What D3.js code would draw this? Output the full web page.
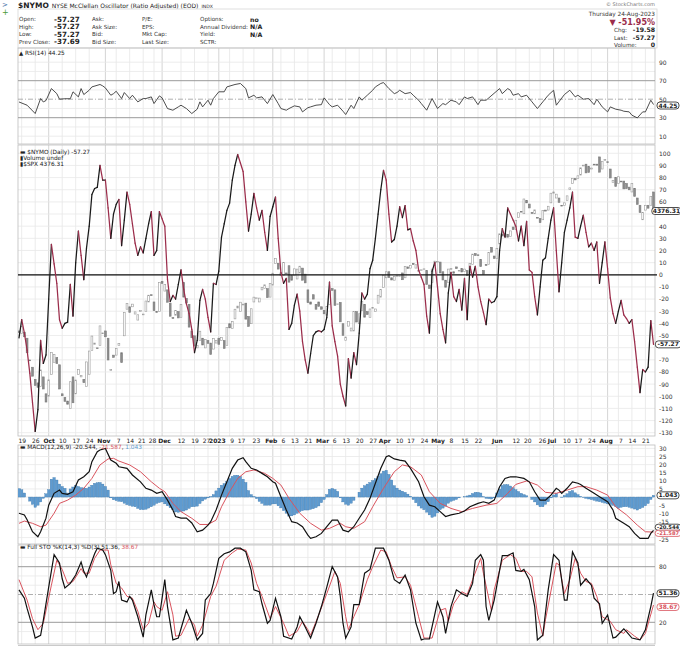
<!DOCTYPE html>
<html>
<head>
<meta charset="utf-8">
<script src="https://cdn.jsdelivr.net/npm/d3@7"></script>
<style>
  body { margin: 0; background: #fff; }
  svg { display: block; }
  text { font-family: "DejaVu Sans", sans-serif; }
</style>
</head>
<body>
<div id="chart"></div>
<script>

// ---- data (index = trading day, 0 = 16-Sep-2022, 235 = 24-Aug-2023) ----

const nymo = [
  -52,-37,-48,-62,-81,-105,-129,-111,-54,-73,
  -66,-20,25,9,-7,-37,-44,-40,-39,-8,
  -34,10,36,16,-4,22,40,66,71,72,
  90,78,78,55,30,50,58,62,24,45,
  68,58,42,26,16,23,18,30,42,52,
  16,20,52,46,40,-4,-22,-17,-20,-8,
  4,-12,-24,-32,-45,-64,-54,-21,-12,-20,
  -35,-47,-7,-8,3,31,42,53,59,78,
  90,99,92,85,60,36,50,67,55,45,
  53,35,20,48,56,64,30,2,-7,-3,
  -45,-40,-25,-16,-30,-55,-70,-81,-65,-50,
  -47,-46,-47,-45,-35,-6,-42,-55,-67,-90,
  -100,-108,-69,-85,-64,-74,-48,-15,-20,-16,
  5,12,30,50,70,86,78,50,27,29,
  40,56,47,57,37,38,28,20,4,-2,
  -8,-34,-48,3,10,-10,-32,-45,-56,-15,
  2,-18,-22,-12,-29,-3,-37,7,-2,7,
  -10,-22,-31,-41,-20,-23,-22,-18,20,38,
  31,55,50,45,40,28,40,24,44,4,
  2,-18,-33,-10,12,14,30,45,55,20,
  -14,10,35,45,55,68,31,30,40,49,
  35,23,26,20,27,-7,10,27,5,-19,
  -32,-40,-30,-21,-33,-36,-40,-37,-55,-76,
  -97,-78,-80,-76,-37.69,-57.27
];

const spxOpen = [
  3880,3870,3875,3850,3760,3730,3680,3665,3650,3690,3620,
  3610,3700,3750,3770,3740,3620,3605,3590,3560,3690,3620,3700,3690,3680,3650,3700,3800,3825,3810,3820,3870,
  3880,3850,3720,3780,3780,3820,3790,3860,3970,3980,3980,3950,3925,3960,3950,3960,4000,4030,4000,3960,3960,
  4085,4045,4050,3995,3935,3945,3960,3935,4080,4015,3990,3880,3860,3810,3840,3850,3810,3840,3830,3805,3830,
  3850,3840,3840,3820,3910,3890,3930,3975,3960,3990,3995,3940,3910,4000,4015,4000,4050,4055,4055,4020,
  4070,4160,4160,4120,4110,4120,4150,4110,4110,4095,4120,4140,4115,4050,4000,4030,3990,4000,3980,
  3965,3945,3990,4055,4050,3990,3998,3910,3840,3900,3880,3880,3960,3910,3965,3990,3960,3935,3975,3960,3995,4020,4060,
  4100,4125,4100,4090,4105,4105,4120,4100,4145,4140,4160,4140,4130,4130,4135,4130,4070,4080,4150,
  4165,4165,4125,4090,4080,4135,4125,4145,4130,4138,4126,4130,4120,4155,4200,4195,4176,4130,4155,4155,4226,4190,
  4180,4240,4280,4270,4280,4270,4310,4300,4350,4375,4365,4420,4405,4370,4365,4350,4345,4340,4380,4380,4410,
  4450,4430,4430,4400,4400,4420,4465,4490,4510,4510,4525,4565,4570,4560,4550,4570,4570,4600,4550,4585,
  4580,4550,4495,4515,4490,4500,4500,4490,4475,4455,4470,4430,4400,4340,4380,4400,4400,4455
];

const spxClose = [
  3873,3900,3856,3790,3758,3693,3655,3647,3719,3640,3586,
  3678,3791,3783,3745,3640,3612,3589,3577,3670,3583,3677,3720,3695,3666,3752,3797,3859,3830,3807,3901,3872,
  3856,3760,3720,3771,3807,3828,3749,3956,3993,3957,3991,3959,3947,3965,3950,4004,4028,4026,3964,3958,4080,
  4077,4072,3999,3941,3934,3964,3934,3990,4020,3996,3896,3852,3818,3821,3879,3822,3845,3829,3783,3849,3840,
  3825,3853,3808,3895,3893,3919,3970,3983,3999,3991,3929,3899,3972,4020,4017,4016,4060,4071,4018,4077,
  4119,4180,4136,4111,4164,4118,4082,4090,4137,4136,4148,4090,4079,3997,3991,4012,3970,3982,3970,
  3951,3981,4046,4048,3986,3992,3918,3862,3855,3920,3892,3960,3917,3951,4003,3937,3948,3971,3977,3971,4028,4051,4109,
  4125,4101,4091,4105,4109,4108,4092,4146,4138,4151,4155,4154,4130,4133,4137,4072,4056,4136,4169,
  4168,4120,4091,4061,4136,4138,4119,4138,4131,4124,4136,4110,4159,4198,4192,4192,4146,4115,4151,4205,4206,4180,
  4221,4282,4273,4284,4268,4294,4299,4338,4369,4373,4426,4410,4389,4366,4381,4348,4328,4378,4376,4396,4450,
  4455,4446,4412,4399,4410,4439,4472,4510,4505,4522,4555,4566,4534,4536,4554,4567,4566,4537,4582,4589,
  4577,4513,4502,4478,4518,4499,4468,4469,4464,4490,4437,4404,4370,4370,4400,4388,4436,4376.31
];

// [day, value] vertices
const rsi = [
  [0,47],[3,43.5],[6,34.5],[8,50.7],[9,47],[10,48.6],[12,61.5],[14,56],[15,50],[17,50.5],[19,50.5],
  [20,58],[22,52.5],[23,61.5],[24,55],[26,59.7],[27,63.3],[30,65.9],[31,64.4],[32,62.2],[34,54.3],
  [35,56],[36,58.6],[38,50.7],[39,57.2],[41,50.7],[42,54.3],[44,47.1],[46,50.7],[47,50.7],[49,52.5],
  [50,45.3],[52,53.6],[53,51.4],[55,39.9],[57,38.1],[59,41.7],[60,43.5],[62,39.9],[64,34.5],[66,39.2],
  [67,47.1],[68,41.7],[70,48.9],[71,43.5],[72,50.7],[74,58],[76,58],[77,63.3],[80,65.9],[82,67],
  [84,61.5],[85,51.4],[87,54.3],[88,51.4],[90,52.5],[92,45.3],[94,55],[96,45.3],[97,39.9],[99,38.1],
  [100,39.9],[102,42.8],[104,41.7],[105,36.3],[107,40.8],[108,41.7],[110,43.5],[112,44.1],[113,51.4],
  [115,44.1],[116,41.7],[118,43.5],[120,37],[121,33.4],[123,43.5],[124,39.9],[126,52.5],[127,48.9],
  [129,54.3],[131,59.7],[132,63.3],[134,67],[135,68],[137,61.5],[139,56],[140,57.2],[141,59.7],[143,56],
  [145,57.2],[146,54.3],[148,48.9],[149,45.3],[151,38.1],[153,50.7],[155,39.9],[157,45.3],[158,44.1],
  [160,48.9],[162,47.1],[163,44.1],[165,52.5],[166,50.7],[168,52.5],[170,44.1],[171,48.9],[173,48.9],
  [174,51.4],[178,61.5],[179,56],[181,61.5],[182,59.7],[183,54.3],[185,56],[186,52.5],[188,54.3],
  [190,47.1],[192,39.9],[194,47.1],[196,54.3],[198,59.7],[199,43.5],[202,55],[204,59.7],[206,52.5],
  [207,54.3],[209,50],[211,50.7],[213,44.1],[214,50],[216,41.7],[218,36.3],[219,41.7],[221,39.2],
  [223,38.1],[224,37],[226,36.3],[227,32.7],[229,29.8],[231,36.3],[232,36.3],[234,48.9],[235,44.25]
];

const macdLine = [
  [0,-10],[2,-11],[3,-14],[5,-21.4],[7,-24.5],[8,-21.4],[10,-13],[11,-5],[13,2.3],[15,4.3],[16,2.3],
  [18,1.7],[20,3.3],[22,10.5],[24,12.5],[26,15.6],[27,21.8],[29,28],[30,29],[32,30],[34,22.8],[36,20.8],
  [37,18.7],[40,17.7],[42,13.6],[45,9.4],[47,5.4],[49,4.3],[51,2.3],[53,3.3],[55,-1.9],[57,-8],[58,-12],
  [60,-13],[62,-13],[64,-16],[66,-21.4],[68,-20.4],[70,-17.3],[71,-15.2],[73,-8],[75,1.2],[77,9.4],
  [79,17.7],[81,22.8],[83,24.3],[84,21.8],[86,17.7],[88,16.7],[90,14.6],[92,12.5],[94,9.4],[95,8.5],
  [97,0.2],[99,-8],[101,-15.2],[103,-16],[105,-18.3],[107,-23.5],[108,-25.5],[110,-24.5],[112,-22.4],
  [114,-18.3],[116,-14.2],[118,-14.2],[120,-20.4],[122,-21.4],[124,-18.3],[126,-13.1],[128,-8],
  [130,-0.8],[132,8.5],[134,17.7],[136,24.9],[137,25.5],[139,23.5],[141,22.8],[143,22.2],[145,17.7],
  [148,9.4],[150,0.2],[152,-5],[154,-6],[156,-9],[158,-12],[160,-11],[163,-10],[165,-8.6],[167,-6],
  [170,-3.9],[172,-2.9],[174,-3.9],[176,-1.9],[178,6.4],[180,11.5],[182,12.5],[184,12.5],[187,11.5],
  [189,9.4],[191,3.3],[193,-1.9],[195,-1.9],[197,1.2],[199,5.4],[200,4.3],[201,2.3],[203,5.4],[205,9.4],
  [207,8.5],[208,7.8],[210,5.4],[213,2.3],[215,0.2],[218,-2.9],[220,-8],[221,-13.1],[224,-16.2],
  [226,-18.3],[228,-22.4],[230,-25.5],[233,-25.5],[234,-22.4],[235,-20.544]
];

const macdSignal = [
  [0,-16.2],[2,-14.8],[5,-16.2],[8,-18.3],[10,-17.3],[13,-10],[15,-3.9],[18,-1.9],[21,1.2],[24,5.4],
  [27,11.5],[30,19.8],[33,23.5],[35,23.9],[37,22.2],[41,19.8],[45,15.6],[49,9.4],[52,5.4],[54,3.3],
  [57,-3.9],[60,-9],[64,-13.1],[67,-16.9],[70,-16.9],[73,-14.2],[75,-6],[78,3.3],[81,11.5],[84,15.6],
  [87,16.7],[91,14.6],[94,11.5],[97,7.4],[100,-0.8],[104,-10],[108,-16.2],[112,-20.4],[115,-19.3],
  [119,-16.2],[121,-18.3],[124,-19.3],[128,-15.2],[131,-6],[135,5.4],[139,15.6],[142,19.8],[145,18.7],
  [149,13.6],[152,3.3],[156,-3.9],[160,-7],[164,-9],[168,-7],[173,-5],[177,-3.9],[181,2.3],[184,7.8],
  [188,9.9],[192,7.4],[195,2.9],[199,2.3],[203,4.3],[207,6.4],[210,6.4],[214,4.3],[218,1.2],[221,-6],
  [225,-11],[229,-17.3],[232,-21.4],[235,-21.587]
];

const macdHist = [
  5.2,4.5,2.5,0,-2.5,-4.5,-6.3,-5,-3,-0.8,
  2,4.5,11,12,10.5,8,6.5,5.4,2.5,5,
  6.2,7.2,6.5,5.8,5.6,5.4,6.2,7.3,8.5,8.8,
  9,8,6.5,4.3,-0.5,-1.7,-2.2,-2.6,-2.9,-3.8,
  -4.7,-5.2,-5.7,-6,-7,-7.8,-7.8,-7.5,-6.8,-6,
  -5,-3.9,-3.4,-3,-4.2,-5.4,-6.6,-7.8,-9.2,-9.4,
  -9,-8.6,-8,-7,-6,-6,-5.6,-4,-2.4,-1.3,
  -0.5,0.2,1.5,3.8,5.5,7.3,8.3,9.6,11.5,12.8,
  13.4,13.4,12.8,11,9,4,1.5,0.3,-1,-2.7,
  -3.9,-5,-5,-5,-4.2,-4.2,-5.4,-6.7,-8.4,-10,
  -11.7,-11.6,-11,-10,-9,-8.4,-8,-8,-7.6,-7.2,
  -6.5,-5.5,-3.5,-1.5,1.5,4.8,5.3,4.7,3.5,-0.5,
  -3,-4.4,-5,-3.8,-2,0,3,5.5,7,8,
  9,10.2,11.3,12.8,14.4,16,16.5,14,10.5,7,
  5.5,4.3,3.6,2.9,1.8,0.5,-1.5,-3.5,-5.5,-6.8,
  -7.8,-9.3,-11,-12.5,-11.8,-9.8,-7.8,-6.8,-5.6,-3.8,
  -2.6,-2,-1.5,-0.5,0,0.2,0.7,1.2,2.2,2.9,
  2.9,2.5,0.2,-0.8,-1,-1.2,-0.5,2.5,5,7.2,
  7.7,7.6,6.8,5.7,4.5,3.4,2.3,1.5,0.8,0,
  -1.5,-3,-4.8,-6,-6,-4.5,-2.9,-0.5,1.3,2.3,
  0,-0.3,1,2,3.5,4,2.6,1.5,0.4,-0.3,
  -0.8,-1.2,-1.6,-2,-2.5,-2.9,-3.3,-3.7,-4.2,-4.6,
  -5.1,-6,-7,-6.3,-6,-6,-6.3,-6.8,-7.4,-8,
  -7.2,-6.4,-5.4,-4,-1.5,1.043
];

const stoK = [
  [0,55],[2,46],[3,35],[5,15],[6,3],[8,6],[9,22],[11,58],[13,93],[15,84],[16,67],[17,57],[19,62],
  [21,71],[23,85],[24,75],[25,69],[26,78],[28,94],[29,100],[31,98],[32,93],[34,76],[35,51],[36,53],
  [37,64],[38,44],[40,42],[41,48],[42,44],[44,26],[46,4],[47,28],[49,55],[50,39],[51,26],[52,26],
  [54,66],[55,37],[57,1],[59,3],[60,13],[62,33],[64,19],[66,1],[68,8],[69,44],[71,51],[72,62],[74,89],
  [76,94],[78,96],[80,100],[82,100],[84,96],[86,76],[87,55],[89,53],[90,40],[92,19],[93,22],[95,46],
  [97,26],[98,5],[101,2],[103,15],[104,26],[106,15],[108,3],[110,19],[112,37],[114,58],[116,80],
  [118,69],[119,48],[120,19],[121,3],[123,15],[124,39],[126,39],[128,73],[130,77],[132,100],[135,100],
  [137,87],[139,66],[141,62],[143,71],[145,55],[147,19],[149,1],[150,2],[152,2],[155,42],[157,26],
  [158,8],[160,37],[162,55],[164,51],[166,48],[168,62],[169,87],[171,93],[172,87],[173,37],[174,22],
  [176,44],[178,76],[179,92],[181,92],[183,95],[184,76],[186,75],[187,77],[189,66],[191,37],[192,1],
  [194,6],[196,55],[198,93],[200,87],[202,44],[203,44],[205,96],[207,84],[208,60],[210,67],[212,60],
  [213,46],[215,40],[216,19],[218,28],[220,3],[221,4],[224,13],[225,10],[227,3],[230,1],[232,12],
  [234,37],[235,51.36]
];

const stoD = [
  [0,66],[3,44],[5,24],[7,12],[9,19],[12,60],[14,87],[16,77],[18,62],[20,64],[23,78],[24,73],[26,73],
  [28,89],[30,98],[33,98],[34,82],[36,62],[38,57],[40,48],[42,46],[44,32],[46,12],[48,19],[50,42],
  [51,37],[53,33],[55,53],[57,28],[58,5],[60,6],[63,24],[65,17],[66,5],[68,17],[71,48],[73,59],
  [76,87],[79,95],[81,99],[84,98],[86,84],[88,62],[90,48],[93,24],[95,37],[98,19],[100,5],[103,10],
  [105,21],[107,12],[108,6],[111,28],[114,51],[117,75],[119,62],[121,26],[122,12],[124,26],[126,39],
  [129,66],[131,80],[134,98],[136,96],[138,80],[140,68],[143,69],[145,60],[148,26],[150,3],[153,3],
  [156,33],[158,35],[159,21],[161,40],[164,53],[166,50],[168,66],[171,89],[172,73],[175,32],[176,55],
  [179,87],[182,93],[184,89],[186,75],[188,75],[190,69],[192,30],[194,5],[195,23],[199,84],[200,82],
  [202,51],[204,66],[206,89],[208,73],[210,64],[212,62],[214,48],[216,26],[219,21],[221,12],[224,8],
  [225,12],[228,5],[230,1],[232,8],[235,38.67]
];

// x-axis ticks: trading-day index and label
const tickIdx = [1,6,11,16,21,26,32,36,41,46,50,53,60,65,70,74,78,83,87,94,97,102,107,113,116,121,126,131,
                 136,140,145,150,155,160,165,170,177,184,189,193,198,202,207,212,218,222,227,232];
const tickText = ['19','26','Oct','10','17','24','Nov','7','14','21','28','Dec','12','19','27','2023','9','17','23',
                  'Feb','6','13','21','Mar','6','13','20','27','Apr','10','17','24','May','8','15','22','Jun',
                  '12','20','26','Jul','10','17','24','Aug','7','14','21'];
const monthNames = ['Oct','Nov','Dec','2023','Feb','Mar','Apr','May','Jun','Jul','Aug'];

// right-hand axis labels (values hidden behind value tags are left out)
const rsiLabels  = [90, 70, 50, 30, 10];
const mainLabels = [100, 90, 80, 70, 60, 40, 30, 20, 10, 0, -10, -20, -30, -40, -50, -70, -80, -90, -100, -110, -120, -130];
const macdLabels = [30, 25, 20, 15, 10, 5, -5, -10, -15, -25];
const stoLabels  = [80, 20];

// ---- layout ----
const W = 680, H = 648;
const L = 18, R = 655;
const upColor = '#1a1a1a', downColor = '#9b2d4b', sigColor = '#d9545e', histColor = '#5f9bd0';
const hdrFont = '"Liberation Sans", Arial, sans-serif';

const svg = d3.select('#chart').append('svg')
    .attr('width', W)
    .attr('height', H);

const x = d3.scaleLinear().domain([0, nymo.length - 1]).range([19, 653.5]);

const panels = {
    rsi:  {top: 48,  bottom: 144},
    main: {top: 145, bottom: 436},
    macd: {top: 445, bottom: 544},
    sto:  {top: 545, bottom: 644}
};

const yRsi  = d3.scaleLinear().domain([10, 90]).range([136.2, 62.2]);
const yMain = d3.scaleLinear().domain([-130, 100]).range([432.7, 153.3]);
const ySpx  = d3.scaleLinear().domain([3491, 4376.31]).range([425, 211]);
const yMacd = d3.scaleLinear().domain([-25, 30]).range([537.6, 448.4]);
const ySto  = d3.scaleLinear().domain([20, 80]).range([622.3, 566.7]);

const defs = svg.append('defs');
Object.keys(panels).forEach(function(k) {
    const p = panels[k];
    defs.append('clipPath').attr('id', 'clip-' + k)
      .append('rect')
        .attr('x', L).attr('y', p.top)
        .attr('width', R - L).attr('height', p.bottom - p.top);
});

function drawFrame(p, y, gridValues) {
    const g = svg.append('g');
    // vertical grid at each date tick
    g.selectAll('line.v')
        .data(tickIdx)
        .enter().append('line')
        .attr('x1', d => x(d)).attr('x2', d => x(d))
        .attr('y1', p.top).attr('y2', p.bottom)
        .attr('stroke', (d, i) => monthNames.includes(tickText[i]) ? '#c9c9c9' : '#e6e6e6')
        .attr('stroke-width', 0.8);
    // horizontal grid
    g.selectAll('line.h')
        .data(gridValues)
        .enter().append('line')
        .attr('x1', L).attr('x2', R)
        .attr('y1', d => y(d)).attr('y2', d => y(d))
        .attr('stroke', '#e8e8e8')
        .attr('stroke-width', 0.8);
    g.append('rect')
        .attr('x', L).attr('y', p.top)
        .attr('width', R - L).attr('height', p.bottom - p.top)
        .attr('fill', 'none').attr('stroke', '#bdbdbd').attr('stroke-width', 0.8);
    return g;
}

function yAxis(y, values) {
    const g = svg.append('g')
        .attr('transform', `translate(${R + 1},0)`)
        .call(d3.axisRight(y).tickValues(values).tickSize(0).tickPadding(3).tickFormat(d => String(d)));
    g.select('.domain').remove();
    g.selectAll('text')
        .attr('font-size', 6)
        .attr('fill', '#333')
        .attr('font-family', '"DejaVu Sans", sans-serif');
    return g;
}

function refLine(y, v, dashed) {
    svg.append('line')
        .attr('x1', L).attr('x2', R)
        .attr('y1', y(v)).attr('y2', y(v))
        .attr('stroke', '#9a9a9a')
        .attr('stroke-width', dashed ? 0.8 : 1)
        .attr('stroke-dasharray', dashed ? '5,2,1,2' : null);
}

function tag(y, txt, color, fs) {
    fs = fs || 6;
    const g = svg.append('g');
    const w = txt.length * fs * 0.6 + 4;
    const h = fs + 1;
    const cx = Math.min(R + 2 + w / 2, W - w / 2 + 1);
    g.append('rect')
        .attr('x', cx - w / 2).attr('y', y - h / 2)
        .attr('width', w).attr('height', h).attr('rx', 3)
        .attr('fill', '#fff').attr('stroke', color).attr('stroke-width', 0.8);
    g.append('text')
        .attr('x', cx).attr('y', y + fs * 0.35)
        .attr('text-anchor', 'middle')
        .attr('font-size', fs).attr('font-weight', 'bold')
        .attr('fill', color)
        .text(txt);
}

function legend(xp, yp, parts) {
    const t = svg.append('text')
        .attr('x', xp).attr('y', yp)
        .attr('font-size', 5.8)
        .attr('font-family', '"DejaVu Sans Mono", monospace');
    parts.forEach(function(p) {
        t.append('tspan').attr('fill', p[1] || '#222').text(p[0]);
    });
}

const lineOf = y => d3.line().x(d => x(d[0])).y(d => y(d[1]));

// ---- header ----
svg.append('text').attr('x', 2).attr('y', 7).attr('font-size', 7).attr('fill', '#3a6ea5').text('>');
svg.append('text').attr('x', 2).attr('y', 15).attr('font-size', 8).attr('fill', '#4a9a3a').text('+');

const title = svg.append('text').attr('x', 18).attr('y', 8).attr('fill', '#222').attr('font-family', hdrFont);
title.append('tspan').attr('font-size', 7.5).attr('font-weight', 'bold').text('$NYMO');
title.append('tspan').attr('font-size', 6).attr('dx', 3).text('NYSE McClellan Oscillator (Ratio Adjusted) (EOD)');
title.append('tspan').attr('font-size', 4.6).attr('dx', 3).text('INDX');

svg.append('text').attr('x', 655).attr('y', 6).attr('text-anchor', 'end').attr('font-family', hdrFont)
    .attr('font-size', 5).attr('fill', '#777').text('© StockCharts.com');

svg.append('rect').attr('x', L).attr('y', 9).attr('width', 639).attr('height', 39)
    .attr('fill', '#fff').attr('stroke', '#d8d8d8').attr('stroke-width', 0.8);

const rowsY = [21, 28.5, 36, 43.5];
const cols = [
    {x: 19,  labels: ['Open:', 'High:', 'Low:', 'Prev Close:'], vx: 54, values: ['-57.27', '-57.27', '-57.27', '-37.69']},
    {x: 92,  labels: ['Ask:', 'Ask Size:', 'Bid:', 'Bid Size:']},
    {x: 142, labels: ['P/E:', 'EPS:', 'Mkt Cap:', 'Last Size:']},
    {x: 200, labels: ['Options:', 'Annual Dividend:', 'Yield:', 'SCTR:'], vx: 250, values: ['no', 'N/A', 'N/A', '']}
];
cols.forEach(function(c) {
    c.labels.forEach(function(lb, i) {
        svg.append('text').attr('x', c.x).attr('y', rowsY[i]).attr('font-family', hdrFont)
            .attr('font-size', 5.6).attr('fill', '#333').text(lb);
        if (c.values && c.values[i]) {
            svg.append('text').attr('x', c.vx).attr('y', rowsY[i] + 0.5).attr('font-family', hdrFont)
                .attr('font-size', c.vx < 100 ? 7.2 : 6.2).attr('font-weight', 'bold')
                .attr('fill', '#222').text(c.values[i]);
        }
    });
});

svg.append('text').attr('x', 655).attr('y', 16).attr('text-anchor', 'end').attr('font-family', hdrFont)
    .attr('font-size', 5.8).attr('fill', '#333').text('Thursday  24-Aug-2023');
svg.append('text').attr('x', 655).attr('y', 24.5).attr('text-anchor', 'end').attr('font-family', hdrFont)
    .attr('font-size', 8).attr('font-weight', 'bold').attr('fill', '#9b2d4b').text('▼ -51.95%');
[['Chg:', '-19.58', 32], ['Last:', '-57.27', 39.5], ['Volume:', '0', 46.5]].forEach(function(r) {
    svg.append('text').attr('x', 614).attr('y', r[2]).attr('font-family', hdrFont)
        .attr('font-size', 5.6).attr('fill', '#333').text(r[0]);
    svg.append('text').attr('x', 655).attr('y', r[2]).attr('text-anchor', 'end').attr('font-family', hdrFont)
        .attr('font-size', 6.2).attr('font-weight', 'bold').attr('fill', '#222').text(r[1]);
});

// ---- RSI panel ----
drawFrame(panels.rsi, yRsi, [10, 20, 40, 60, 80, 90]);
refLine(yRsi, 70, false);
refLine(yRsi, 30, false);
refLine(yRsi, 50, true);
svg.append('path')
    .attr('clip-path', 'url(#clip-rsi)')
    .datum(rsi)
    .attr('d', lineOf(yRsi))
    .attr('fill', 'none').attr('stroke', '#3a3a3a').attr('stroke-width', 0.9);
yAxis(yRsi, rsiLabels);
svg.append('text').attr('x', 19).attr('y', 55).attr('font-size', 5.5).attr('fill', '#222').text('▲');
legend(25, 55, [['RSI(14) 44.25']]);
tag(yRsi(44.25) + 1, '44.25', '#222');

// ---- main panel ----
drawFrame(panels.main, yMain, d3.range(-130, 101, 10));

const candles = svg.append('g').attr('clip-path', 'url(#clip-main)');
candles.selectAll('rect')
    .data(spxClose.map((c, i) => ({i: i, o: spxOpen[i], c: c})))
    .enter().append('rect')
    .attr('x', d => x(d.i) - 0.9)
    .attr('width', 1.8)
    .attr('y', d => ySpx(Math.max(d.o, d.c)))
    .attr('height', d => Math.max(0.8, Math.abs(ySpx(d.o) - ySpx(d.c))))
    .attr('fill', d => d.c >= d.o ? '#fff' : '#8c8c8c')
    .attr('stroke', d => d.c >= d.o ? '#9a9a9a' : '#7a7a7a')
    .attr('stroke-width', 0.6);

svg.append('line')
    .attr('x1', L).attr('x2', R + 2)
    .attr('y1', yMain(0)).attr('y2', yMain(0))
    .attr('stroke', '#111').attr('stroke-width', 1.3);

const segs = nymo.slice(1).map((v, k) => ({i: k, a: nymo[k], b: v}));
svg.append('g').attr('clip-path', 'url(#clip-main)')
    .selectAll('line')
    .data(segs)
    .enter().append('line')
    .attr('x1', d => x(d.i)).attr('x2', d => x(d.i + 1))
    .attr('y1', d => yMain(d.a)).attr('y2', d => yMain(d.b))
    .attr('stroke', d => d.b >= d.a ? upColor : downColor)
    .attr('stroke-width', 1.25)
    .attr('stroke-linecap', 'round');

yAxis(yMain, mainLabels);
legend(20, 154, [['▬ $NYMO (Daily) -57.27']]);
legend(20, 160, [['▮Volume undef']]);
legend(20, 166, [['▮$SPX 4376.31']]);
tag(ySpx(4376.31), '4376.31', '#222');
tag(yMain(-57.27), '-57.27', '#222');

// ---- x axis labels ----
const xa = svg.append('g')
    .attr('transform', `translate(0,${panels.main.bottom})`)
    .call(d3.axisBottom(x).tickValues(tickIdx).tickSize(0).tickPadding(2.5)
        .tickFormat((d, i) => tickText[i]));
xa.select('.domain').remove();
xa.selectAll('text')
    .attr('font-size', 6)
    .attr('fill', '#222')
    .attr('font-family', '"DejaVu Sans", sans-serif')
    .attr('font-weight', (d, i) => monthNames.includes(tickText[i]) ? 'bold' : 'normal')
    // nudge apart labels whose ticks sit very close together
    .attr('dx', function(d, i) {
        const prev = i > 0 ? x(d) - x(tickIdx[i - 1]) : 99;
        const next = i < tickIdx.length - 1 ? x(tickIdx[i + 1]) - x(d) : 99;
        if (next < 12) return -2;
        if (prev < 12) return 2;
        return 0;
    });

// ---- MACD panel ----
drawFrame(panels.macd, yMacd, d3.range(-25, 31, 5));
const hist = svg.append('g').attr('clip-path', 'url(#clip-macd)');
hist.selectAll('rect')
    .data(macdHist.map((v, i) => ({i: i, v: v})))
    .enter().append('rect')
    .attr('x', d => x(d.i) - 1.2)
    .attr('width', 2.4)
    .attr('y', d => Math.min(yMacd(0), yMacd(d.v)))
    .attr('height', d => Math.abs(yMacd(d.v) - yMacd(0)))
    .attr('fill', histColor)
    .attr('stroke', '#3c78ac')
    .attr('stroke-width', 0.35);
svg.append('path')
    .attr('clip-path', 'url(#clip-macd)')
    .datum(macdSignal)
    .attr('d', lineOf(yMacd))
    .attr('fill', 'none').attr('stroke', sigColor).attr('stroke-width', 1);
svg.append('path')
    .attr('clip-path', 'url(#clip-macd)')
    .datum(macdLine)
    .attr('d', lineOf(yMacd))
    .attr('fill', 'none').attr('stroke', '#111').attr('stroke-width', 1.2);
const macdAxis = yAxis(yMacd, macdLabels);
// the bottom label sits just under the two stacked value tags
macdAxis.selectAll('text').filter(d => d === -25).attr('dy', '0.7em');
legend(20, 449, [['▬ MACD(12,26,9) -20.544, '], ['-21.587', sigColor], [', '], ['1.043', histColor]]);
tag(yMacd(1.043), '1.043', '#222');
tag(527.3, '-20.544', '#222', 5.2);
tag(533.3, '-21.587', sigColor, 5.2);

// ---- Full STO panel ----
drawFrame(panels.sto, ySto, [10, 30, 40, 60, 70, 90]);
refLine(ySto, 80, false);
refLine(ySto, 20, false);
refLine(ySto, 50, true);
svg.append('path')
    .attr('clip-path', 'url(#clip-sto)')
    .datum(stoD)
    .attr('d', lineOf(ySto))
    .attr('fill', 'none').attr('stroke', sigColor).attr('stroke-width', 1);
svg.append('path')
    .attr('clip-path', 'url(#clip-sto)')
    .datum(stoK)
    .attr('d', lineOf(ySto))
    .attr('fill', 'none').attr('stroke', '#111').attr('stroke-width', 1.2);
yAxis(ySto, stoLabels);
legend(20, 549, [['▬ Full STO %K(14,3) %D(3) 51.36, '], ['38.67', sigColor]]);
tag(ySto(51.36), '51.36', '#222');
tag(ySto(38.67) + 2, '38.67', sigColor);

// top edge of the next (cut off) panel
svg.append('line').attr('x1', L).attr('x2', R).attr('y1', 645.5).attr('y2', 645.5)
    .attr('stroke', '#bdbdbd').attr('stroke-width', 0.8);

</script>
</body>
</html>
